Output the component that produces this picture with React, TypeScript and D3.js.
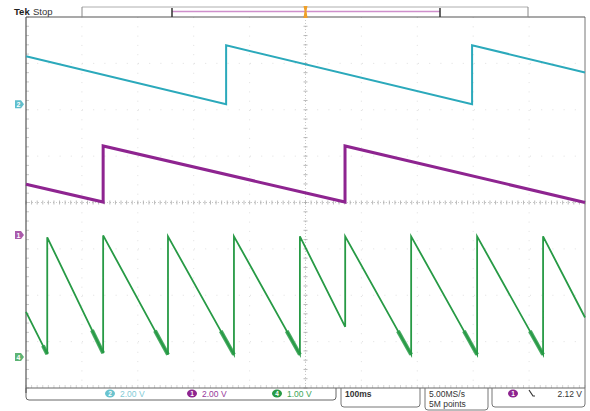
import React from "react";
import * as d3 from "d3";

// ---- data ----
const timeDomain = [-500, 500]; // ms (100 ms/div)
const channelNames = ["2", "1", "4"];
const channelVoltsPerDiv = [2.0, 2.0, 1.0];
const channelOffsetDiv = [2.12, -0.7, -3.33];
const channelScaleLabels = ["2.00 V", "2.00 V", "1.00 V"];

const cyanT = [-500, -142, -142, 298, 298, 500];
const cyanV = [2.07, 0.0, 2.54, 0.0, 2.54, 1.37];

const magT = [-500, -362, -362, 70.7, 70.7, 500];
const magV = [2.19, 1.42, 3.84, 1.42, 3.84, 1.4];

const greenT = [-500, -462, -462, -362, -362, -246, -246, -128, -128, -10, -10, 71, 71, 189, 189, 307, 307, 425, 425, 500];
const greenV = [0.97, 0.06, 2.58, 0.08, 2.62, 0.05, 2.6, 0.05, 2.6, 0.05, 2.6, 0.65, 2.6, 0.05, 2.6, 0.05, 2.6, 0.05, 2.6, 0.85];

const timebaseLabel = "100ms";
const sampleLabels = ["5.00MS/s", "5M points"];
const triggerLabel = "2.12 V";

const COLORS = ["#2ba9bb", "#8e2490", "#279a45"];
const X0 = 26, X1 = 585, Y0 = 17, Y1 = 388;

export default function App() {
  const x = d3.scaleLinear().domain(timeDomain).range([X0, X1]);
  const yDiv = d3.scaleLinear().domain([-4, 4]).range([Y1, Y0]);
  const yCh = (i: number) => (v: number) => yDiv(channelOffsetDiv[i] + v / channelVoltsPerDiv[i]);

  const mk = (T: number[], V: number[], i: number) => {
    const y = yCh(i);
    const pts: [number, number][] = T.map((t, k) => [t, V[k]]);
    return d3.line<[number, number]>().x((d) => x(d[0])).y((d) => y(d[1]))(pts) || "";
  };

  // green ringing tails near the bottoms
  const yG = yCh(2);
  const tails: string[] = [];
  for (let k = 0; k < greenT.length - 1; k++) {
    const t0 = greenT[k], t1 = greenT[k + 1], v0 = greenV[k], v1 = greenV[k + 1];
    if (t1 > t0 && v1 < 0.2 && v0 > v1) {
      const ta = t0 + (t1 - t0) * 0.8, va = v0 + (v1 - v0) * 0.8;
      tails.push(`M${x(ta)},${yG(va)}L${x(t1)},${yG(v1)}`);
    }
  }

  const vGrid = d3.range(-5, 6).map((d) => X0 + ((X1 - X0) / 10) * (d + 5));
  const hGrid = d3.range(-4, 5).map((d) => yDiv(d));
  const cx = x(0), cy = yDiv(0);
  const minorX = d3.range(-50, 51).map((d) => x(d * 10));
  const minorY = d3.range(-20, 21).map((d) => yDiv(d / 5));

  const font = "'Liberation Sans', 'DejaVu Sans', sans-serif";

  return (
    <svg width={590} height={411} style={{ position: "absolute", left: 0, top: 0, background: "#fff" }} fontFamily={font}>
      <rect width={590} height={411} fill="#fff" />
      {/* grid */}
      {vGrid.slice(1, -1).map((gx, i) => (
        <line key={"v" + i} x1={gx} x2={gx} y1={Y0} y2={Y1} stroke="#d8d8d8" strokeWidth={0.8} strokeDasharray="1 8.3" />
      ))}
      {hGrid.slice(1, -1).map((gy, i) => (
        <line key={"h" + i} x1={X0} x2={X1} y1={gy} y2={gy} stroke="#d8d8d8" strokeWidth={0.8} strokeDasharray="1 10.2" />
      ))}
      <line x1={cx} x2={cx} y1={Y0} y2={Y1} stroke="#bbb" strokeWidth={0.8} strokeDasharray="1 2" />
      <line x1={X0} x2={X1} y1={cy} y2={cy} stroke="#bbb" strokeWidth={0.8} strokeDasharray="1 2" />
      {minorX.map((mx, i) => (
        <line key={"mx" + i} x1={mx} x2={mx} y1={cy - 2} y2={cy + 2} stroke="#aaa" strokeWidth={0.8} />
      ))}
      {minorY.map((my, i) => (
        <line key={"my" + i} x1={cx - 2} x2={cx + 2} y1={my} y2={my} stroke="#aaa" strokeWidth={0.8} />
      ))}
      {minorY.map((my, i) => (
        <line key={"ml" + i} x1={X0} x2={X0 + 3} y1={my} y2={my} stroke="#bbb" strokeWidth={0.8} />
      ))}
      {minorX.map((mx, i) => (
        <line key={"mb" + i} x1={mx} x2={mx} y1={Y1 - 3} y2={Y1} stroke="#ccc" strokeWidth={0.8} />
      ))}

      {/* frame */}
      <line x1={X0} x2={X0} y1={Y0} y2={Y1 + 5} stroke="#555" strokeWidth={1.2} />
      <line x1={X1} x2={X1} y1={Y0} y2={Y1} stroke="#777" strokeWidth={1} />
      <line x1={X0} x2={X1} y1={Y0} y2={Y0} stroke="#555" strokeWidth={1.2} />
      <line x1={X0} x2={X1} y1={Y1} y2={Y1} stroke="#666" strokeWidth={1} />

      {/* traces */}
      <path d={mk(cyanT, cyanV, 0)} fill="none" stroke={COLORS[0]} strokeWidth={2} />
      <path d={mk(magT, magV, 1)} fill="none" stroke={COLORS[1]} strokeWidth={3} />
      <path d={mk(greenT, greenV, 2)} fill="none" stroke={COLORS[2]} strokeWidth={1.8} />
      {tails.map((d, i) => (
        <path key={"t" + i} d={d} fill="none" stroke={COLORS[2]} strokeWidth={4} opacity={0.85} />
      ))}

      {/* channel ground markers */}
      {channelNames.map((n, i) => {
        const my = yCh(i)(0);
        return (
          <g key={"cm" + i} transform={`translate(${X0 - 11},${my})`} opacity={0.75}>
            <path d="M0,-4 L6,-4 L9,0 L6,4 L0,4 Z" fill={COLORS[i]} />
            <text x={3.5} y={2.8} fontSize={7} fill="#fff" textAnchor="middle" fontWeight="bold">{n}</text>
          </g>
        );
      })}

      {/* top bar */}
      <text x={14} y={15} fontSize={9.5} fontWeight="bold" fill="#222">Tek</text>
      <text x={33} y={15} fontSize={9.5} fill="#333">Stop</text>
      <line x1={82} x2={528} y1={7} y2={7} stroke="#999" strokeWidth={0.8} />
      <line x1={82} x2={82} y1={7} y2={Y0} stroke="#888" strokeWidth={1} />
      <line x1={528} x2={528} y1={7} y2={Y0} stroke="#888" strokeWidth={1} />
      <line x1={172} x2={440} y1={11.5} y2={11.5} stroke="#cf8fcc" strokeWidth={1.3} />
      <line x1={172} x2={172} y1={8} y2={Y0} stroke="#333" strokeWidth={1.5} />
      <line x1={440} x2={440} y1={8} y2={Y0} stroke="#333" strokeWidth={1.5} />
      <path d={`M${cx - 2},6 L${cx + 2},6 L${cx + 1},11 L${cx + 2},18 L${cx - 2},18 L${cx - 1},11 Z`} fill="#f0a028" />

      {/* bottom boxes */}
      <path d={`M${X0},${Y1} L${X0},397 Q${X0},400 29,400 L333,400 Q336,400 336,397 L336,${Y1}`} fill="none" stroke="#666" strokeWidth={1} />
      {[110, 192, 277].map((bx, i) => (
        <g key={"bb" + i}>
          <ellipse cx={bx} cy={393.5} rx={5} ry={4} fill={COLORS[i]} opacity={i === 0 ? 0.7 : 1} />
          <text x={bx} y={396} fontSize={6.5} fill="#fff" textAnchor="middle" fontWeight="bold">{channelNames[i]}</text>
          <text x={bx + 10} y={397} fontSize={8.5} fill={COLORS[i]} opacity={i === 0 ? 0.6 : 0.9}>{channelScaleLabels[i]}</text>
        </g>
      ))}
      <path d={`M341,${Y1} L341,404 Q341,407 344,407 L417,407 Q420,407 420,404 L420,${Y1}`} fill="none" stroke="#777" strokeWidth={1} />
      <text x={345} y={397} fontSize={8.5} fontWeight="bold" fill="#333">{timebaseLabel}</text>
      <path d={`M425,${Y1} L425,407 Q425,410 428,410 L485,410 Q488,410 488,407 L488,${Y1}`} fill="none" stroke="#777" strokeWidth={1} />
      <text x={429} y={397} fontSize={8.5} fill="#333">{sampleLabels[0]}</text>
      <text x={429} y={407} fontSize={8.5} fill="#333">{sampleLabels[1]}</text>
      <path d={`M492,${Y1} L492,404 Q492,407 495,407 L582,407 Q585,407 585,404 L585,${Y1}`} fill="none" stroke="#777" strokeWidth={1} />
      <ellipse cx={513} cy={393.5} rx={5} ry={4} fill={COLORS[1]} />
      <text x={513} y={396} fontSize={6.5} fill="#fff" textAnchor="middle" fontWeight="bold">{channelNames[1]}</text>
      <path d="M529,390 L533,396 L535,396" fill="none" stroke="#333" strokeWidth={1.2} />
      <text x={582} y={397} fontSize={8.5} fill="#333" textAnchor="end">{triggerLabel}</text>
    </svg>
  );
}
